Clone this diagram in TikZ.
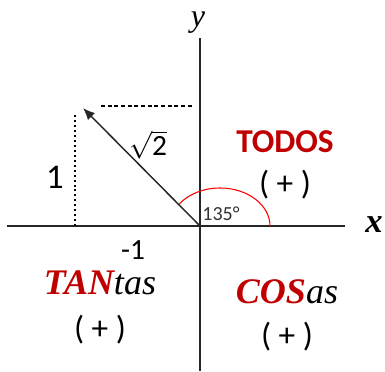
\documentclass[tikz,border=0pt]{standalone}
\usepackage{fontspec}
\setmainfont{Carlito}
\newfontfamily\cambr{Liberation Serif}
\usetikzlibrary{arrows.meta,positioning}
\definecolor{quadred}{RGB}{192,0,0}

\begin{document}
\begin{tikzpicture}[x=0.75pt, y=0.75pt, >=Latex,
  axis/.style={line width=1.1pt, black!85},
  vec/.style={-{Latex[length=9pt,width=7.5pt]}, line width=1.1pt, black!85},
  num/.style={font=\fontsize{26}{28}\selectfont},
  quad/.style={font=\fontsize{25}{27}\selectfont\bfseries, text=quadred},
  quadit/.style={font=\fontsize{27}{29}\selectfont\cambr\itshape},
  sgn/.style={font=\fontsize{25}{27}\selectfont}]
  \useasboundingbox (-200,-145) rectangle (185,226);
  \coordinate (o) at (0,0);
  \coordinate (xl) at (-193,0);
  \coordinate (xr) at (145,0);
  \coordinate (yb) at (0,-145);
  \coordinate (yt) at (0,188);
  \coordinate (p) at (-117,118);
  % axes
  \draw[axis] (xl) -- (xr);
  \draw[axis] (yb) -- (yt);
  \node[font=\fontsize{26}{28}\selectfont\cambr\bfseries\itshape] (xlab) at (174,1) {x};
  \node[font=\fontsize{24}{26}\selectfont\cambr\itshape] (ylab) at (-2,203) {y};
  % vector and projections
  \coordinate (d1) at (-125,113);
  \coordinate (d0) at (-125,0);
  \coordinate (h1) at (-99,120);
  \coordinate (h0) at (-7,120);
  \draw[line width=1.2pt, dash pattern=on 1.5pt off 2.2pt] (d0) -- (d1);
  \draw[line width=0.9pt, dash pattern=on 3pt off 2pt] (h1) -- (h0);
  \draw[red, line width=0.8pt] (70,0) arc[start angle=0, end angle=145, x radius=50, y radius=38];
  \draw[vec] (o) -- (p);
  \node[num] (one) at (-145,49) {1};
  \node[font=\fontsize{22}{24}\selectfont] (r2) at (-52,81) {$\sqrt{\mbox{2}}$};
  \node[font=\fontsize{22}{24}\selectfont] (m1) at (-67,-24) {-1};
  \node[font=\fontsize{15}{17}\selectfont, text=black!80] (ang) at (21,12) {135°};
  % quadrants
  \node[quad] (q1) at (85,84) {TODOS};
  \node[sgn] (s1) at (85,41) {( + )};
  \node[quadit] (q2) at (-100,-57) {\textcolor{quadred}{\bfseries TAN}tas};
  \node[sgn] (s2) at (-100,-104) {( + )};
  \node[quadit] (q3) at (87,-66) {\textcolor{quadred}{\bfseries COS}as};
  \node[sgn] (s3) at (87,-111) {( + )};
\end{tikzpicture}
\end{document}
